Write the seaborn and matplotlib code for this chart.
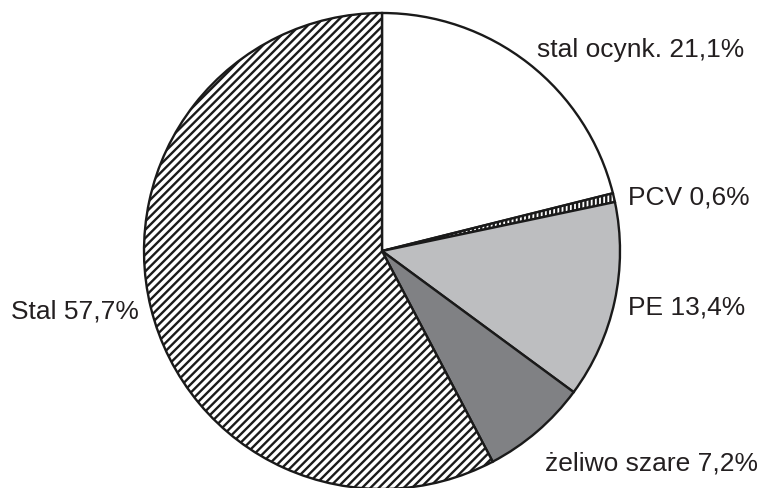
import matplotlib
matplotlib.use("Agg")
import matplotlib.pyplot as plt
import seaborn as sns

sns.set_theme(style="white")
plt.rcParams['font.family'] = ['Liberation Sans', 'DejaVu Sans']
plt.rcParams['hatch.linewidth'] = 1.7
plt.rcParams['hatch.color'] = '#1a1a1a'

labels = ["stal ocynk. 21,1%", "PCV 0,6%", "PE 13,4%", "żeliwo szare 7,2%", "Stal 57,7%"]
values = [21.1, 0.6, 13.4, 7.2, 57.7]
colors = ["#ffffff", "#ffffff", "#bdbec0", "#808184", "#ffffff"]
hatches = ["", "||||", "", "", "////"]

fig = plt.figure(figsize=(7.59, 4.88), dpi=100)
ax = fig.add_axes([0, 0, 1, 1])
ax.set_xlim(0, 759)
ax.set_ylim(0, 488)
ax.set_aspect('equal')
ax.axis('off')

wedges, _ = ax.pie(values, startangle=90, counterclock=False, colors=colors,
                   center=(382, 488 - 251), radius=238,
                   wedgeprops=dict(edgecolor='#1a1a1a', linewidth=1.7))
for w, h in zip(wedges, hatches):
    w.set_hatch(h)

ax.set_xlim(0, 759)
ax.set_ylim(0, 488)

pos = [(537, 57), (628, 205), (628, 315), (545, 470), (11, 318)]
for lab, (x, y) in zip(labels, pos):
    ax.text(x, 488 - y, lab, fontsize=19, ha='left', va='baseline', color='#231f20')

fig.savefig("out.png", dpi=100)
